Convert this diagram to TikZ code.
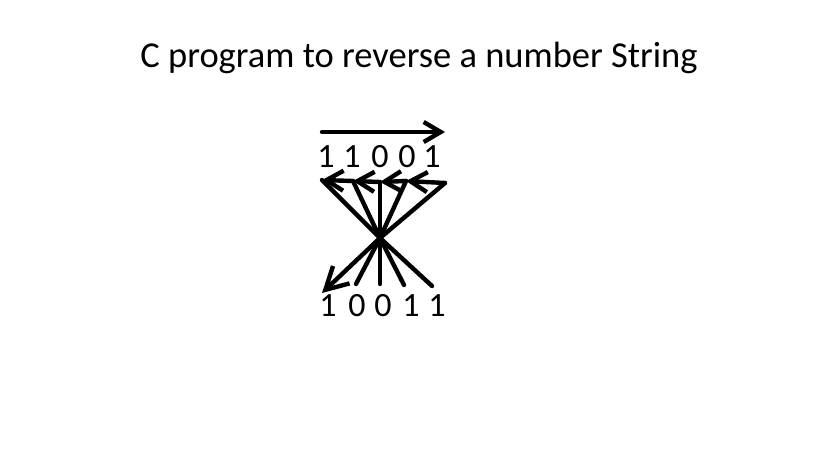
\documentclass[tikz,border=0pt]{standalone}
\usepackage{fontspec}
\setmainfont{Carlito}
\usetikzlibrary{arrows.meta}

\begin{document}
\begin{tikzpicture}[x=1pt,y=-1pt,>={Straight Barb[length=17pt,width=20pt]},
  pen/.style={line width=4.4pt,line cap=round,line join=round},
  digit/.style={anchor=base,inner sep=0pt,font=\fontsize{34}{34}\selectfont}]
  \useasboundingbox (0,0) rectangle (819,460);
  \node[anchor=base,inner sep=0pt,font=\fontsize{36.5}{36.5}\selectfont] (title) at (419,67) {C program to reverse a number String};
  % digits before and after
  \foreach \x/\d [count=\i] in {326/1,352/1,380/0,407/0,432/1}
    \node[digit] (t\i) at (\x,167) {\d};
  \foreach \x/\d [count=\i] in {328/1,357/0,383/0,411/1,437/1}
    \node[digit] (b\i) at (\x,316) {\d};
  % reading direction
  \coordinate (a0) at (322,132);
  \coordinate (a1) at (445,132);
  \draw[pen,->] (a0) -- (a1);
  % back along the string
  \coordinate (r) at (445,183);
  \foreach \x/\y [count=\i] in {322/180,353/181,380/182,406/181}
    \coordinate (h\i) at (\x,\y);
  \draw[pen,->] (r) -- (h4);
  \draw[pen,->] (h4) -- (h3);
  \draw[pen,->] (h3) -- (h2);
  \draw[pen,->] (h2) -- (h1);
  % crossing
  \coordinate (x) at (380,238);
  \foreach \x/\y [count=\i] in {322/293,356/284,380/284,404/285,432/286}
    \coordinate (k\i) at (\x,\y);
  \draw[pen] (h1) -- (x) -- (k5);
  \draw[pen] (h2) -- (x) -- (k4);
  \draw[pen] (h3) -- (x) -- (k3);
  \draw[pen] (h4) -- (x) -- (k2);
  \draw[pen,-{Straight Barb[length=22pt,width=24pt]}] (r) -- (x) -- (k1);
\end{tikzpicture}
\end{document}
